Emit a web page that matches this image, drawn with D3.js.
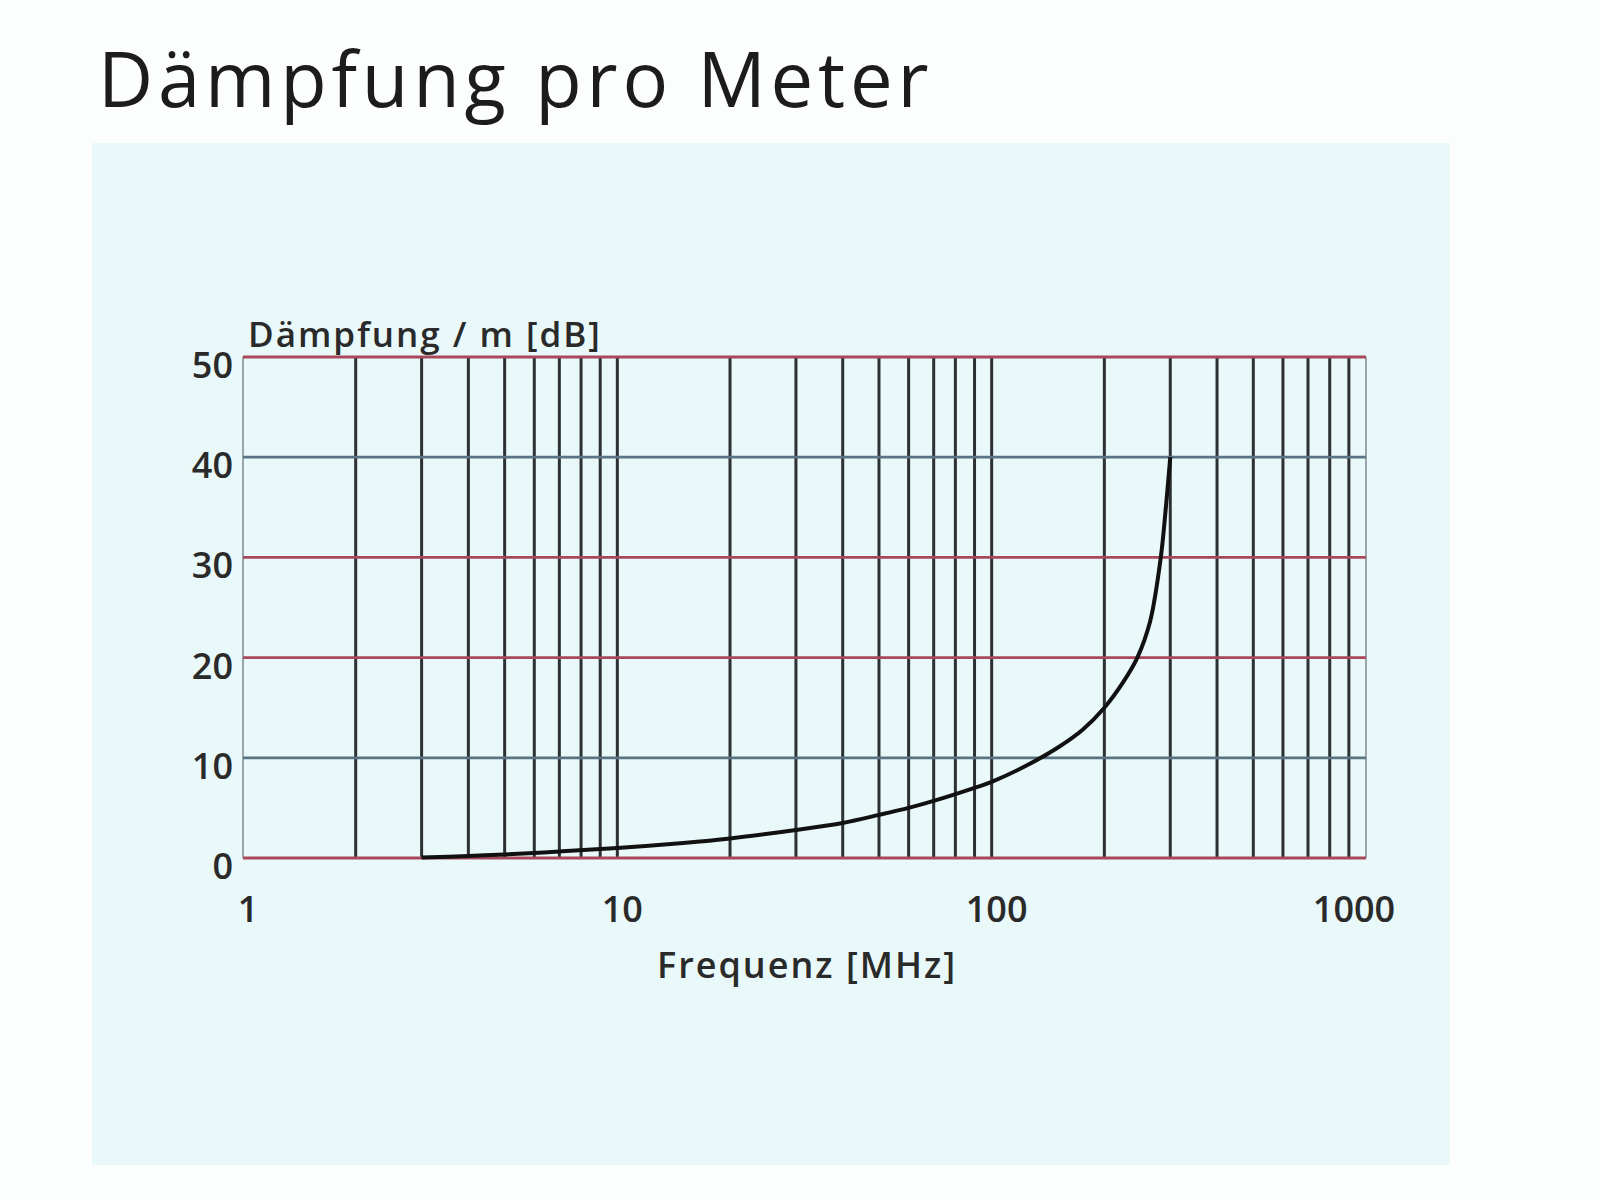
<!DOCTYPE html>
<html lang="de">
<head>
  <meta charset="UTF-8">
  <title>Dämpfung pro Meter</title>
  <script src="https://d3js.org/d3.v7.min.js"></script>
  <style>
    body {
      margin: 0;
      background: #fcfefe;
      font-family: "Open Sans", "Noto Sans", sans-serif;
    }
  </style>
</head>
<body>
  <div id="chart"></div>

  <script>
    // Werte
    const freq = [3, 4, 5, 7, 10, 15, 20, 30, 40, 50, 60, 70, 90, 100, 125, 150, 175, 200, 225, 245, 265, 283, 292, 300];
    const daempfung = [0.05, 0.2, 0.35, 0.65, 1.0, 1.5, 1.95, 2.8, 3.5, 4.3, 5.0, 5.7, 7.0, 7.6, 9.3, 11.0, 12.8, 15, 17.6, 20, 23.6, 30, 35, 40];
    const yTicks = [0, 10, 20, 30, 40, 50];
    const xTickLabels = [1, 10, 100, 1000];

    const W = 1600, H = 1200;
    const margin = {top: 357, right: 234, bottom: 342, left: 243},
          width = W - margin.left - margin.right,
          height = H - margin.top - margin.bottom;

    const root = d3.select("#chart")
                   .append("svg")
                   .attr("width", W)
                   .attr("height", H);

    // hellblauer Papierhintergrund
    root.append("rect")
        .attr("x", 92).attr("y", 143)
        .attr("width", 1358).attr("height", 1022)
        .attr("fill", "#e9f8f8");

    root.append("text")
        .attr("x", 98)
        .attr("y", 107)
        .style("font-size", "76px")
        .style("letter-spacing", "4.8px")
        .style("fill", "#1c1c1c")
        .text("Dämpfung pro Meter");

    const svg = root.append("g")
                    .attr("transform", `translate(${margin.left},${margin.top})`);

    const x = d3.scaleLog()
                .domain([1, 1000])
                .range([0, width]);

    const y = d3.scaleLinear()
                .domain([0, 50])
                .range([height, 0]);

    // vertikale Gitterlinien 1..9, 10..90, 100..900, 1000
    const vLines = [];
    [1, 10, 100].forEach(dec => d3.range(1, 10).forEach(m => vLines.push(dec * m)));
    vLines.push(1000);

    svg.selectAll(".vgrid")
       .data(vLines)
       .enter()
       .append("line")
       .attr("class", "vgrid")
       .attr("x1", d => x(d))
       .attr("x2", d => x(d))
       .attr("y1", 0)
       .attr("y2", height)
       .attr("stroke", d => (d === 1 || d === 1000) ? "#9aa6aa" : "#2e3133")
       .attr("stroke-width", d => (d === 1 || d === 1000) ? 2 : 3);

    // horizontale Gitterlinien
    const hColor = {0: "#a8485a", 10: "#5a7385", 20: "#a8485a", 30: "#a8485a", 40: "#5a7385", 50: "#a8485a"};
    svg.selectAll(".hgrid")
       .data(yTicks)
       .enter()
       .append("line")
       .attr("class", "hgrid")
       .attr("x1", 0)
       .attr("x2", width)
       .attr("y1", d => y(d))
       .attr("y2", d => y(d))
       .attr("stroke", d => hColor[d])
       .attr("stroke-width", 2.8);

    // Achsenbeschriftung
    svg.selectAll(".ylab")
       .data(yTicks)
       .enter()
       .append("text")
       .attr("class", "ylab")
       .attr("x", -10)
       .attr("y", d => y(d) + 21)
       .attr("text-anchor", "end")
       .style("font-size", "36px")
       .style("font-weight", "600")
       .style("fill", "#2a2a2a")
       .text(d => d);

    svg.selectAll(".xlab")
       .data(xTickLabels)
       .enter()
       .append("text")
       .attr("class", "xlab")
       .attr("x", d => x(d) + (d === 1000 ? -12 : 5))
       .attr("y", height + 64)
       .attr("text-anchor", "middle")
       .style("font-size", "36px")
       .style("font-weight", "600")
       .style("fill", "#2a2a2a")
       .text(d => d);

    svg.append("text")
       .attr("x", 5)
       .attr("y", -10)
       .style("font-size", "35px")
       .style("font-weight", "600")
       .style("letter-spacing", "2px")
       .style("fill", "#2a2a2a")
       .text("Dämpfung / m [dB]");

    svg.append("text")
       .attr("x", 807 - margin.left)
       .attr("y", height + 120)
       .attr("text-anchor", "middle")
       .style("font-size", "36px")
       .style("font-weight", "600")
       .style("letter-spacing", "2px")
       .style("fill", "#2a2a2a")
       .text("Frequenz [MHz]");

    // Kurve
    const data = freq.map((f, i) => ({f, v: daempfung[i]}));
    const line = d3.line()
                   .x(d => x(d.f))
                   .y(d => y(d.v))
                   .curve(d3.curveCatmullRom.alpha(0.5));

    svg.append("path")
       .datum(data)
       .attr("d", line)
       .attr("fill", "none")
       .attr("stroke", "#111")
       .attr("stroke-width", 4);
  </script>
</body>
</html>
